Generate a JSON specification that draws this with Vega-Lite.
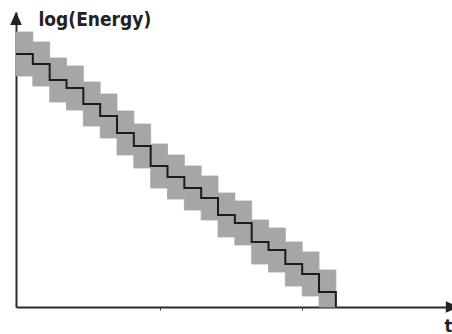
{
  "$schema": "https://vega.github.io/schema/vega-lite/v6.json",
  "width": 436,
  "height": 295,
  "autosize": {"type": "none"},
  "padding": {"left": 16, "top": 12, "right": 0, "bottom": 27},
  "background": "white",
  "config": {
    "view": {"stroke": null},
    "font": "'DejaVu Sans Condensed', 'Liberation Sans', sans-serif"
  },
  "datasets": {
    "blocks": [
      {"t": 0, "t2": 1, "e": 25.3, "lo": 23.1, "hi": 27.5},
      {"t": 1, "t2": 2, "e": 24.3, "lo": 22.1, "hi": 26.5},
      {"t": 2, "t2": 3, "e": 22.7, "lo": 20.5, "hi": 24.9},
      {"t": 3, "t2": 4, "e": 21.9, "lo": 19.7, "hi": 24.1},
      {"t": 4, "t2": 5, "e": 20.3, "lo": 18.1, "hi": 22.5},
      {"t": 5, "t2": 6, "e": 19.1, "lo": 16.9, "hi": 21.3},
      {"t": 6, "t2": 7, "e": 17.4, "lo": 15.2, "hi": 19.6},
      {"t": 7, "t2": 8, "e": 16.1, "lo": 13.9, "hi": 18.3},
      {"t": 8, "t2": 9, "e": 14.1, "lo": 11.9, "hi": 16.3},
      {"t": 9, "t2": 10, "e": 13.0, "lo": 10.8, "hi": 15.2},
      {"t": 10, "t2": 11, "e": 11.9, "lo": 9.7, "hi": 14.1},
      {"t": 11, "t2": 12, "e": 10.9, "lo": 8.7, "hi": 13.1},
      {"t": 12, "t2": 13, "e": 9.2, "lo": 7.0, "hi": 11.4},
      {"t": 13, "t2": 14, "e": 8.4, "lo": 6.2, "hi": 10.6},
      {"t": 14, "t2": 15, "e": 6.5, "lo": 4.3, "hi": 8.7},
      {"t": 15, "t2": 16, "e": 5.7, "lo": 3.5, "hi": 7.9},
      {"t": 16, "t2": 17, "e": 4.3, "lo": 2.1, "hi": 6.5},
      {"t": 17, "t2": 18, "e": 3.3, "lo": 1.1, "hi": 5.5},
      {"t": 18, "t2": 19, "e": 1.5, "lo": 0, "hi": 3.7}
    ],
    "steps": [
      {"t": 0, "e": 25.3}, {"t": 1, "e": 24.3}, {"t": 2, "e": 22.7},
      {"t": 3, "e": 21.9}, {"t": 4, "e": 20.3}, {"t": 5, "e": 19.1},
      {"t": 6, "e": 17.4}, {"t": 7, "e": 16.1}, {"t": 8, "e": 14.1},
      {"t": 9, "e": 13.0}, {"t": 10, "e": 11.9}, {"t": 11, "e": 10.9},
      {"t": 12, "e": 9.2}, {"t": 13, "e": 8.4}, {"t": 14, "e": 6.5},
      {"t": 15, "e": 5.7}, {"t": 16, "e": 4.3}, {"t": 17, "e": 3.3},
      {"t": 18, "e": 1.5}, {"t": 19, "e": 0}
    ],
    "one": [{"k": 1}]
  },
  "layer": [
    {
      "data": {"name": "blocks"},
      "mark": {"type": "rect", "color": "#a6a6a6", "stroke": "#a6a6a6", "strokeWidth": 0.8},
      "encoding": {
        "x": {
          "field": "t", "type": "quantitative",
          "scale": {"domain": [0, 25.9], "nice": false, "zero": false},
          "axis": {
            "title": "t", "values": [8.55, 17], "labels": false, "grid": false,
            "tickSize": 3, "tickColor": "#444", "tickWidth": 1,
            "domainColor": "#2a2a2a", "domainWidth": 2,
            "titleX": 428, "titleY": 24, "titleAlign": "left", "titleBaseline": "alphabetic",
            "titleFontSize": 18, "titleFontWeight": "bold", "titleColor": "#222"
          }
        },
        "x2": {"field": "t2"},
        "y": {
          "field": "lo", "type": "quantitative",
          "scale": {"domain": [0, 29.5], "nice": false, "zero": false},
          "axis": {
            "title": "log(Energy)", "ticks": false, "labels": false, "grid": false,
            "domainColor": "#2a2a2a", "domainWidth": 2,
            "titleAngle": 0, "titleX": 22, "titleY": 13, "titleAlign": "left", "titleBaseline": "alphabetic",
            "titleFontSize": 19, "titleFontWeight": "bold", "titleColor": "#222"
          }
        },
        "y2": {"field": "hi"}
      }
    },
    {
      "data": {"name": "steps"},
      "mark": {"type": "line", "interpolate": "step-after", "color": "#1c1c1c", "strokeWidth": 2},
      "encoding": {
        "x": {"field": "t", "type": "quantitative"},
        "y": {"field": "e", "type": "quantitative"}
      }
    },
    {
      "data": {"name": "one"},
      "mark": {"type": "point", "shape": "M0,-1L0.9,1L-0.9,1Z", "filled": true, "size": 169, "color": "#222", "opacity": 1, "strokeWidth": 0},
      "encoding": {
        "x": {"datum": 0, "type": "quantitative"},
        "y": {"datum": 28.85, "type": "quantitative"}
      }
    },
    {
      "data": {"name": "one"},
      "mark": {"type": "point", "shape": "M1,0L-1,0.9L-1,-0.9Z", "filled": true, "size": 169, "color": "#222", "opacity": 1, "strokeWidth": 0},
      "encoding": {
        "x": {"datum": 25.92, "type": "quantitative"},
        "y": {"datum": 0, "type": "quantitative"}
      }
    }
  ]
}
